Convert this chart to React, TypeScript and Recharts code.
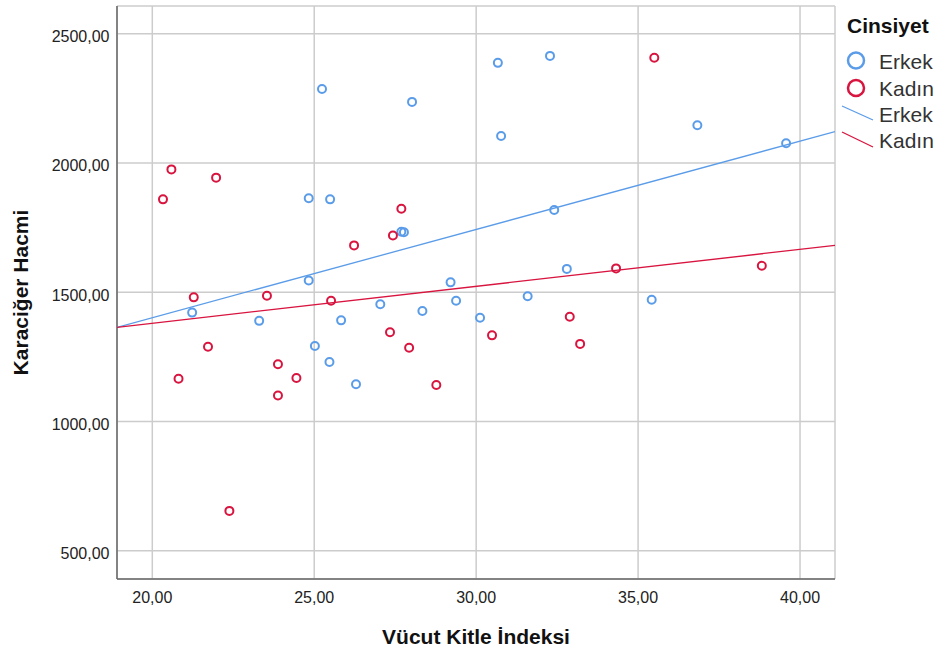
import * as React from "react";
import { ScatterChart, Scatter, XAxis, YAxis, CartesianGrid, Legend } from "recharts";

const xTicks = [20, 25, 30, 35, 40];
const yTicks = [500, 1000, 1500, 2000, 2500];

// Erkek (male) points: BMI vs liver volume
const erkekBmi = [
  32.28, 30.67, 25.24, 28.02, 30.77, 36.83, 39.57, 24.83, 25.49, 32.41, 27.69, 27.77, 24.83, 32.8,
  29.21, 29.38, 31.59, 35.42, 27.04, 28.34, 30.12, 21.23, 23.3, 25.83, 25.02, 25.47, 26.29,
];
const erkekHacim = [
  2414, 2387, 2286, 2236, 2104, 2146, 2076, 1863, 1859, 1818, 1734, 1732, 1545, 1590,
  1538, 1467, 1484, 1471, 1453, 1427, 1401, 1421, 1389, 1391, 1292, 1230, 1144,
];

// Kadın (female) points
const kadinBmi = [
  20.59, 21.97, 20.33, 27.69, 27.43, 26.23, 21.28, 23.54, 25.52, 27.34, 27.93, 21.72, 23.88, 24.45,
  20.81, 28.77, 23.88, 34.32, 38.82, 32.89, 30.49, 33.21, 35.5, 22.38,
];
const kadinHacim = [
  1975, 1943, 1859, 1823, 1719, 1681, 1480, 1486, 1467, 1345, 1285, 1289, 1221, 1168,
  1165, 1141, 1100, 1592, 1602, 1405, 1333, 1300, 2407, 654,
];

// fit lines, read at the plot edges
const fitBmi = [18.91, 41.08];
const erkekFit = [1364, 2121];
const kadinFit = [1364, 1681];

const BLUE = "#5b9ce9";
const RED = "#d8143f";
const FONT = '"Liberation Sans", Arial, sans-serif';

function fmt(v: number): string {
  return v.toFixed(2).replace(".", ",");
}

const toPoints = (xs: number[], ys: number[]) => xs.map((x, i) => ({ x, y: ys[i] }));

function ring(color: string) {
  return (props: any) => (
    <circle cx={props.cx} cy={props.cy} r={4} fill="none" stroke={color} strokeWidth={2} />
  );
}

const noDot = () => <g />;

function XTick({ x, y, payload }: any) {
  return (
    <text x={x} y={y + 24} textAnchor="middle" fontFamily={FONT} fontSize={16} fill="#222">
      {fmt(payload.value)}
    </text>
  );
}

function YTick({ x, y, payload }: any) {
  return (
    <text x={x - 7.5} y={y + 8.5} textAnchor="end" fontFamily={FONT} fontSize={16} fill="#222">
      {fmt(payload.value)}
    </text>
  );
}

function XTitle({ viewBox }: any) {
  const cx = viewBox ? viewBox.x + viewBox.width / 2 : 476;
  return (
    <text x={cx} y={644} textAnchor="middle" fontFamily={FONT} fontSize={21} fontWeight="bold" fill="#111">
      Vücut Kitle İndeksi
    </text>
  );
}

function YTitle({ viewBox }: any) {
  const cy = viewBox ? viewBox.y + viewBox.height / 2 : 292;
  return (
    <text
      transform={`translate(28,${cy}) rotate(-90)`}
      textAnchor="middle"
      fontFamily={FONT}
      fontSize={21}
      fontWeight="bold"
      fill="#111"
    >
      Karaciğer Hacmi
    </text>
  );
}

function LegendBox() {
  const txt = { fontFamily: FONT, fontSize: 21, fill: "#333" };
  return (
    <svg width={103} height={160} style={{ display: "block" }}>
      <text x={12} y={33} fontFamily={FONT} fontSize={21} fontWeight="bold" fill="#111">
        Cinsiyet
      </text>
      <circle cx={21} cy={60.5} r={8} fill="none" stroke={BLUE} strokeWidth={2.5} />
      <text x={44} y={69} {...txt}>Erkek</text>
      <circle cx={21} cy={88} r={8} fill="none" stroke={RED} strokeWidth={2.5} />
      <text x={44} y={96} {...txt}>Kadın</text>
      <line x1={7} y1={106} x2={38} y2={120} stroke={BLUE} strokeWidth={1.3} />
      <text x={44} y={122} {...txt}>Erkek</text>
      <line x1={7} y1={132} x2={38} y2={147} stroke={RED} strokeWidth={1.3} />
      <text x={44} y={148} {...txt}>Kadın</text>
    </svg>
  );
}

export default function App() {
  const erkek = toPoints(erkekBmi, erkekHacim);
  const kadin = toPoints(kadinBmi, kadinHacim);
  const erkekLine = toPoints(fitBmi, erkekFit);
  const kadinLine = toPoints(fitBmi, kadinFit);

  return (
    <div style={{ position: "absolute", left: 0, top: 0, width: 938, height: 653, background: "#fff" }}>
      <ScatterChart width={938} height={653} margin={{ top: 6, right: 103, bottom: 0, left: 0 }}>
        <CartesianGrid stroke="#cccccc" strokeWidth={1.5} />
        <XAxis
          type="number"
          dataKey="x"
          domain={[18.91, 41.08]}
          ticks={xTicks}
          interval={0}
          allowDataOverflow
          height={74}
          tickSize={0}
          tickMargin={0}
          tickLine={false}
          tick={XTick}
          axisLine={{ stroke: "#666", strokeWidth: 1.5 }}
          label={{ content: XTitle }}
        />
        <YAxis
          type="number"
          dataKey="y"
          domain={[390.5, 2607]}
          ticks={yTicks}
          interval={0}
          allowDataOverflow
          width={117}
          tickSize={0}
          tickMargin={0}
          tickLine={false}
          tick={YTick}
          axisLine={{ stroke: "#666", strokeWidth: 1.5 }}
          label={{ content: YTitle }}
        />
        <Legend
          layout="horizontal"
          verticalAlign="middle"
          align="center"
          content={LegendBox}
          wrapperStyle={{ left: 835, top: 0, width: 103, height: 160 }}
        />
        <Scatter name="Erkek" data={erkek} shape={ring(BLUE)} isAnimationActive={false} />
        <Scatter name="Kadın" data={kadin} shape={ring(RED)} isAnimationActive={false} />
        <Scatter
          name="Erkek fit"
          data={erkekLine}
          shape={noDot}
          line={{ stroke: BLUE, strokeWidth: 1.3 }}
          legendType="none"
          isAnimationActive={false}
        />
        <Scatter
          name="Kadın fit"
          data={kadinLine}
          shape={noDot}
          line={{ stroke: RED, strokeWidth: 1.3 }}
          legendType="none"
          isAnimationActive={false}
        />
      </ScatterChart>
    </div>
  );
}
